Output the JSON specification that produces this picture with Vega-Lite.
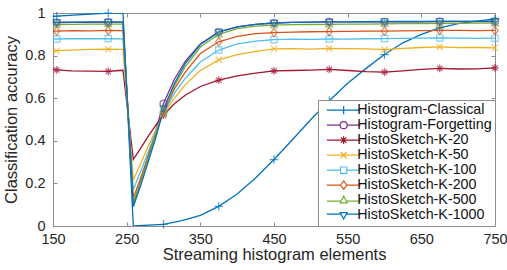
{
  "$schema": "https://vega.github.io/schema/vega-lite/v6.json",
  "width": 442,
  "height": 213,
  "autosize": {"type": "none"},
  "padding": {"left": 53, "top": 13, "right": 12, "bottom": 44},
  "background": "white",
  "config": {
    "font": "Liberation Sans",
    "view": {"stroke": "#8c8c8c", "strokeWidth": 1},
    "axis": {
      "domain": false,
      "grid": false,
      "tickColor": "#8c8c8c",
      "tickSize": -4,
      "labelFlush": false,
      "labelFontSize": 14.5,
      "labelColor": "#262626",
      "titleFontSize": 16.5,
      "titleFontWeight": "normal",
      "titleColor": "#262626"
    },
    "legend": {
      "labelFontSize": 14.3,
      "labelColor": "#111111",
      "strokeColor": "#8c8c8c",
      "fillColor": "white",
      "padding": 3,
      "rowPadding": 0,
      "cornerRadius": 0,
      "symbolOpacity": 1
    }
  },
  "data": {"values": [
    {"s":"Histogram-Classical","x":150,"y":0.983},{"s":"Histogram-Classical","x":155,"y":0.985},{"s":"Histogram-Classical","x":225,"y":1.0},{"s":"Histogram-Classical","x":245,"y":1.0},{"s":"Histogram-Classical","x":259,"y":0.0},{"s":"Histogram-Classical","x":300,"y":0.008},{"s":"Histogram-Classical","x":325,"y":0.025},{"s":"Histogram-Classical","x":350,"y":0.05},{"s":"Histogram-Classical","x":375,"y":0.092},{"s":"Histogram-Classical","x":400,"y":0.15},{"s":"Histogram-Classical","x":425,"y":0.225},{"s":"Histogram-Classical","x":450,"y":0.312},{"s":"Histogram-Classical","x":475,"y":0.405},{"s":"Histogram-Classical","x":500,"y":0.5},{"s":"Histogram-Classical","x":525,"y":0.588},{"s":"Histogram-Classical","x":550,"y":0.67},{"s":"Histogram-Classical","x":575,"y":0.74},{"s":"Histogram-Classical","x":600,"y":0.805},{"s":"Histogram-Classical","x":625,"y":0.86},{"s":"Histogram-Classical","x":650,"y":0.9},{"s":"Histogram-Classical","x":675,"y":0.93},{"s":"Histogram-Classical","x":700,"y":0.95},{"s":"Histogram-Classical","x":725,"y":0.962},{"s":"Histogram-Classical","x":750,"y":0.972},

    {"s":"Histogram-Forgetting","x":150,"y":0.955},{"s":"Histogram-Forgetting","x":155,"y":0.955},{"s":"Histogram-Forgetting","x":175,"y":0.956},{"s":"Histogram-Forgetting","x":200,"y":0.956},{"s":"Histogram-Forgetting","x":225,"y":0.957},{"s":"Histogram-Forgetting","x":245,"y":0.957},{"s":"Histogram-Forgetting","x":259,"y":0.1},{"s":"Histogram-Forgetting","x":270,"y":0.22},{"s":"Histogram-Forgetting","x":280,"y":0.34},{"s":"Histogram-Forgetting","x":290,"y":0.455},{"s":"Histogram-Forgetting","x":300,"y":0.575},{"s":"Histogram-Forgetting","x":315,"y":0.69},{"s":"Histogram-Forgetting","x":330,"y":0.775},{"s":"Histogram-Forgetting","x":350,"y":0.855},{"s":"Histogram-Forgetting","x":375,"y":0.912},{"s":"Histogram-Forgetting","x":400,"y":0.935},{"s":"Histogram-Forgetting","x":425,"y":0.947},{"s":"Histogram-Forgetting","x":450,"y":0.953},{"s":"Histogram-Forgetting","x":475,"y":0.956},{"s":"Histogram-Forgetting","x":500,"y":0.957},{"s":"Histogram-Forgetting","x":525,"y":0.958},{"s":"Histogram-Forgetting","x":550,"y":0.958},{"s":"Histogram-Forgetting","x":575,"y":0.958},{"s":"Histogram-Forgetting","x":600,"y":0.959},{"s":"Histogram-Forgetting","x":625,"y":0.959},{"s":"Histogram-Forgetting","x":650,"y":0.959},{"s":"Histogram-Forgetting","x":675,"y":0.96},{"s":"Histogram-Forgetting","x":700,"y":0.96},{"s":"Histogram-Forgetting","x":725,"y":0.96},{"s":"Histogram-Forgetting","x":750,"y":0.96},

    {"s":"HistoSketch-K-20","x":150,"y":0.735},{"s":"HistoSketch-K-20","x":155,"y":0.733},{"s":"HistoSketch-K-20","x":175,"y":0.728},{"s":"HistoSketch-K-20","x":200,"y":0.727},{"s":"HistoSketch-K-20","x":225,"y":0.726},{"s":"HistoSketch-K-20","x":240,"y":0.73},{"s":"HistoSketch-K-20","x":245,"y":0.731},{"s":"HistoSketch-K-20","x":259,"y":0.313},{"s":"HistoSketch-K-20","x":270,"y":0.37},{"s":"HistoSketch-K-20","x":280,"y":0.425},{"s":"HistoSketch-K-20","x":290,"y":0.475},{"s":"HistoSketch-K-20","x":300,"y":0.52},{"s":"HistoSketch-K-20","x":315,"y":0.575},{"s":"HistoSketch-K-20","x":330,"y":0.615},{"s":"HistoSketch-K-20","x":350,"y":0.655},{"s":"HistoSketch-K-20","x":375,"y":0.685},{"s":"HistoSketch-K-20","x":400,"y":0.705},{"s":"HistoSketch-K-20","x":425,"y":0.718},{"s":"HistoSketch-K-20","x":450,"y":0.728},{"s":"HistoSketch-K-20","x":475,"y":0.73},{"s":"HistoSketch-K-20","x":500,"y":0.732},{"s":"HistoSketch-K-20","x":525,"y":0.735},{"s":"HistoSketch-K-20","x":550,"y":0.73},{"s":"HistoSketch-K-20","x":575,"y":0.725},{"s":"HistoSketch-K-20","x":600,"y":0.722},{"s":"HistoSketch-K-20","x":625,"y":0.728},{"s":"HistoSketch-K-20","x":650,"y":0.735},{"s":"HistoSketch-K-20","x":675,"y":0.74},{"s":"HistoSketch-K-20","x":700,"y":0.737},{"s":"HistoSketch-K-20","x":725,"y":0.738},{"s":"HistoSketch-K-20","x":750,"y":0.742},

    {"s":"HistoSketch-K-50","x":150,"y":0.822},{"s":"HistoSketch-K-50","x":155,"y":0.823},{"s":"HistoSketch-K-50","x":175,"y":0.826},{"s":"HistoSketch-K-50","x":200,"y":0.829},{"s":"HistoSketch-K-50","x":225,"y":0.83},{"s":"HistoSketch-K-50","x":240,"y":0.829},{"s":"HistoSketch-K-50","x":245,"y":0.829},{"s":"HistoSketch-K-50","x":259,"y":0.216},{"s":"HistoSketch-K-50","x":270,"y":0.3},{"s":"HistoSketch-K-50","x":280,"y":0.38},{"s":"HistoSketch-K-50","x":290,"y":0.455},{"s":"HistoSketch-K-50","x":300,"y":0.525},{"s":"HistoSketch-K-50","x":315,"y":0.6},{"s":"HistoSketch-K-50","x":330,"y":0.665},{"s":"HistoSketch-K-50","x":350,"y":0.73},{"s":"HistoSketch-K-50","x":375,"y":0.78},{"s":"HistoSketch-K-50","x":400,"y":0.805},{"s":"HistoSketch-K-50","x":425,"y":0.82},{"s":"HistoSketch-K-50","x":450,"y":0.832},{"s":"HistoSketch-K-50","x":475,"y":0.833},{"s":"HistoSketch-K-50","x":500,"y":0.83},{"s":"HistoSketch-K-50","x":525,"y":0.834},{"s":"HistoSketch-K-50","x":550,"y":0.833},{"s":"HistoSketch-K-50","x":575,"y":0.832},{"s":"HistoSketch-K-50","x":600,"y":0.828},{"s":"HistoSketch-K-50","x":625,"y":0.834},{"s":"HistoSketch-K-50","x":650,"y":0.838},{"s":"HistoSketch-K-50","x":675,"y":0.841},{"s":"HistoSketch-K-50","x":700,"y":0.837},{"s":"HistoSketch-K-50","x":725,"y":0.838},{"s":"HistoSketch-K-50","x":750,"y":0.836},

    {"s":"HistoSketch-K-100","x":150,"y":0.878},{"s":"HistoSketch-K-100","x":155,"y":0.878},{"s":"HistoSketch-K-100","x":175,"y":0.88},{"s":"HistoSketch-K-100","x":200,"y":0.879},{"s":"HistoSketch-K-100","x":225,"y":0.88},{"s":"HistoSketch-K-100","x":245,"y":0.879},{"s":"HistoSketch-K-100","x":259,"y":0.17},{"s":"HistoSketch-K-100","x":270,"y":0.265},{"s":"HistoSketch-K-100","x":280,"y":0.355},{"s":"HistoSketch-K-100","x":290,"y":0.445},{"s":"HistoSketch-K-100","x":300,"y":0.53},{"s":"HistoSketch-K-100","x":315,"y":0.625},{"s":"HistoSketch-K-100","x":330,"y":0.695},{"s":"HistoSketch-K-100","x":350,"y":0.77},{"s":"HistoSketch-K-100","x":375,"y":0.826},{"s":"HistoSketch-K-100","x":400,"y":0.855},{"s":"HistoSketch-K-100","x":425,"y":0.868},{"s":"HistoSketch-K-100","x":450,"y":0.875},{"s":"HistoSketch-K-100","x":475,"y":0.877},{"s":"HistoSketch-K-100","x":500,"y":0.876},{"s":"HistoSketch-K-100","x":525,"y":0.878},{"s":"HistoSketch-K-100","x":550,"y":0.877},{"s":"HistoSketch-K-100","x":575,"y":0.879},{"s":"HistoSketch-K-100","x":600,"y":0.88},{"s":"HistoSketch-K-100","x":625,"y":0.881},{"s":"HistoSketch-K-100","x":650,"y":0.882},{"s":"HistoSketch-K-100","x":675,"y":0.883},{"s":"HistoSketch-K-100","x":700,"y":0.882},{"s":"HistoSketch-K-100","x":725,"y":0.881},{"s":"HistoSketch-K-100","x":750,"y":0.882},

    {"s":"HistoSketch-K-200","x":150,"y":0.915},{"s":"HistoSketch-K-200","x":155,"y":0.915},{"s":"HistoSketch-K-200","x":175,"y":0.917},{"s":"HistoSketch-K-200","x":200,"y":0.916},{"s":"HistoSketch-K-200","x":225,"y":0.918},{"s":"HistoSketch-K-200","x":245,"y":0.917},{"s":"HistoSketch-K-200","x":259,"y":0.13},{"s":"HistoSketch-K-200","x":270,"y":0.235},{"s":"HistoSketch-K-200","x":280,"y":0.335},{"s":"HistoSketch-K-200","x":290,"y":0.435},{"s":"HistoSketch-K-200","x":300,"y":0.535},{"s":"HistoSketch-K-200","x":315,"y":0.645},{"s":"HistoSketch-K-200","x":330,"y":0.725},{"s":"HistoSketch-K-200","x":350,"y":0.81},{"s":"HistoSketch-K-200","x":375,"y":0.865},{"s":"HistoSketch-K-200","x":400,"y":0.89},{"s":"HistoSketch-K-200","x":425,"y":0.903},{"s":"HistoSketch-K-200","x":450,"y":0.908},{"s":"HistoSketch-K-200","x":475,"y":0.91},{"s":"HistoSketch-K-200","x":500,"y":0.912},{"s":"HistoSketch-K-200","x":525,"y":0.913},{"s":"HistoSketch-K-200","x":550,"y":0.914},{"s":"HistoSketch-K-200","x":575,"y":0.915},{"s":"HistoSketch-K-200","x":600,"y":0.915},{"s":"HistoSketch-K-200","x":625,"y":0.916},{"s":"HistoSketch-K-200","x":650,"y":0.917},{"s":"HistoSketch-K-200","x":675,"y":0.918},{"s":"HistoSketch-K-200","x":700,"y":0.918},{"s":"HistoSketch-K-200","x":725,"y":0.917},{"s":"HistoSketch-K-200","x":750,"y":0.918},

    {"s":"HistoSketch-K-500","x":150,"y":0.945},{"s":"HistoSketch-K-500","x":155,"y":0.946},{"s":"HistoSketch-K-500","x":175,"y":0.947},{"s":"HistoSketch-K-500","x":200,"y":0.948},{"s":"HistoSketch-K-500","x":225,"y":0.948},{"s":"HistoSketch-K-500","x":245,"y":0.948},{"s":"HistoSketch-K-500","x":259,"y":0.11},{"s":"HistoSketch-K-500","x":270,"y":0.215},{"s":"HistoSketch-K-500","x":280,"y":0.325},{"s":"HistoSketch-K-500","x":290,"y":0.43},{"s":"HistoSketch-K-500","x":300,"y":0.545},{"s":"HistoSketch-K-500","x":315,"y":0.66},{"s":"HistoSketch-K-500","x":330,"y":0.75},{"s":"HistoSketch-K-500","x":350,"y":0.84},{"s":"HistoSketch-K-500","x":375,"y":0.9},{"s":"HistoSketch-K-500","x":400,"y":0.927},{"s":"HistoSketch-K-500","x":425,"y":0.938},{"s":"HistoSketch-K-500","x":450,"y":0.943},{"s":"HistoSketch-K-500","x":475,"y":0.945},{"s":"HistoSketch-K-500","x":500,"y":0.946},{"s":"HistoSketch-K-500","x":525,"y":0.947},{"s":"HistoSketch-K-500","x":550,"y":0.948},{"s":"HistoSketch-K-500","x":575,"y":0.948},{"s":"HistoSketch-K-500","x":600,"y":0.949},{"s":"HistoSketch-K-500","x":625,"y":0.95},{"s":"HistoSketch-K-500","x":650,"y":0.95},{"s":"HistoSketch-K-500","x":675,"y":0.951},{"s":"HistoSketch-K-500","x":700,"y":0.951},{"s":"HistoSketch-K-500","x":725,"y":0.952},{"s":"HistoSketch-K-500","x":750,"y":0.952},

    {"s":"HistoSketch-K-1000","x":150,"y":0.957},{"s":"HistoSketch-K-1000","x":155,"y":0.957},{"s":"HistoSketch-K-1000","x":175,"y":0.957},{"s":"HistoSketch-K-1000","x":200,"y":0.958},{"s":"HistoSketch-K-1000","x":225,"y":0.958},{"s":"HistoSketch-K-1000","x":245,"y":0.957},{"s":"HistoSketch-K-1000","x":259,"y":0.09},{"s":"HistoSketch-K-1000","x":270,"y":0.2},{"s":"HistoSketch-K-1000","x":280,"y":0.31},{"s":"HistoSketch-K-1000","x":290,"y":0.42},{"s":"HistoSketch-K-1000","x":300,"y":0.55},{"s":"HistoSketch-K-1000","x":315,"y":0.67},{"s":"HistoSketch-K-1000","x":330,"y":0.765},{"s":"HistoSketch-K-1000","x":350,"y":0.852},{"s":"HistoSketch-K-1000","x":375,"y":0.91},{"s":"HistoSketch-K-1000","x":400,"y":0.935},{"s":"HistoSketch-K-1000","x":425,"y":0.947},{"s":"HistoSketch-K-1000","x":450,"y":0.953},{"s":"HistoSketch-K-1000","x":475,"y":0.956},{"s":"HistoSketch-K-1000","x":500,"y":0.957},{"s":"HistoSketch-K-1000","x":525,"y":0.958},{"s":"HistoSketch-K-1000","x":550,"y":0.958},{"s":"HistoSketch-K-1000","x":575,"y":0.959},{"s":"HistoSketch-K-1000","x":600,"y":0.96},{"s":"HistoSketch-K-1000","x":625,"y":0.96},{"s":"HistoSketch-K-1000","x":650,"y":0.96},{"s":"HistoSketch-K-1000","x":675,"y":0.961},{"s":"HistoSketch-K-1000","x":700,"y":0.961},{"s":"HistoSketch-K-1000","x":725,"y":0.961},{"s":"HistoSketch-K-1000","x":750,"y":0.962}
  ]},
  "encoding": {
    "x": {"field": "x", "type": "quantitative", "scale": {"domain": [150, 750], "nice": false, "zero": false}, "axis": null},
    "y": {"field": "y", "type": "quantitative", "scale": {"domain": [0, 1], "nice": false}, "axis": null},
    "color": {
      "field": "s", "type": "nominal",
      "scale": {
        "domain": ["Histogram-Classical","Histogram-Forgetting","HistoSketch-K-20","HistoSketch-K-50","HistoSketch-K-100","HistoSketch-K-200","HistoSketch-K-500","HistoSketch-K-1000"],
        "range": ["#0072BD","#7E2F8E","#A2142F","#EDB120","#4DBEEE","#D95319","#77AC30","#0072BD"]
      },
      "legend": {"title": null, "orient": "bottom-right", "offset": 0, "symbolSize": 49, "symbolOffset": 15.5, "labelOffset": 6.5, "symbolStrokeWidth": 1.2}
    }
  },
  "layer": [
    {
      "mark": {"type": "line", "strokeWidth": 1.3, "clip": true},
      "encoding": {
        "x": {"field": "x", "type": "quantitative", "axis": {"orient": "bottom", "values": [150,250,350,450,550,650,750], "labelPadding": 10, "title": "Streaming histogram elements", "titlePadding": 1}},
        "y": {"field": "y", "type": "quantitative", "axis": {"orient": "left", "values": [0,0.2,0.4,0.6,0.8,1], "format": "~g", "labelPadding": 12, "title": "Classification accuracy", "titlePadding": 5}}
      }
    },
    {
      "transform": [{"filter": {"and": [{"field": "s", "equal": "Histogram-Classical"}, {"field": "x", "oneOf": [155,225,300,375,450,525,600,675,750]}]}}],
      "mark": {"type": "point", "filled": false, "size": 49, "strokeWidth": 1.2, "shape": "M-1.2,0H1.2M0,-1.2V1.2"},
      "encoding": {
        "x": {"field": "x", "type": "quantitative", "axis": {"orient": "top", "values": [150,250,350,450,550,650,750], "labels": false, "title": null}},
        "y": {"field": "y", "type": "quantitative", "axis": {"orient": "right", "values": [0,0.2,0.4,0.6,0.8,1], "labels": false, "title": null}}
      }
    },
    {
      "transform": [{"filter": {"and": [{"field": "s", "equal": "Histogram-Forgetting"}, {"field": "x", "oneOf": [155,225,300,375,450,525,600,675,750]}]}}],
      "mark": {"type": "point", "filled": false, "size": 49, "strokeWidth": 1.2, "shape": "circle"}
    },
    {
      "transform": [{"filter": {"and": [{"field": "s", "equal": "HistoSketch-K-20"}, {"field": "x", "oneOf": [155,225,300,375,450,525,600,675,750]}]}}],
      "mark": {"type": "point", "filled": false, "size": 49, "strokeWidth": 1.2, "shape": "M-1.1,0H1.1M0,-1.1V1.1M-0.78,-0.78L0.78,0.78M-0.78,0.78L0.78,-0.78"}
    },
    {
      "transform": [{"filter": {"and": [{"field": "s", "equal": "HistoSketch-K-50"}, {"field": "x", "oneOf": [155,225,300,375,450,525,600,675,750]}]}}],
      "mark": {"type": "point", "filled": false, "size": 49, "strokeWidth": 1.2, "shape": "M-0.9,-0.9L0.9,0.9M-0.9,0.9L0.9,-0.9"}
    },
    {
      "transform": [{"filter": {"and": [{"field": "s", "equal": "HistoSketch-K-100"}, {"field": "x", "oneOf": [155,225,300,375,450,525,600,675,750]}]}}],
      "mark": {"type": "point", "filled": false, "size": 49, "strokeWidth": 1.2, "shape": "M-0.9,-0.9H0.9V0.9H-0.9Z"}
    },
    {
      "transform": [{"filter": {"and": [{"field": "s", "equal": "HistoSketch-K-200"}, {"field": "x", "oneOf": [155,225,300,375,450,525,600,675,750]}]}}],
      "mark": {"type": "point", "filled": false, "size": 49, "strokeWidth": 1.2, "shape": "M0,-1.2L0.9,0L0,1.2L-0.9,0Z"}
    },
    {
      "transform": [{"filter": {"and": [{"field": "s", "equal": "HistoSketch-K-500"}, {"field": "x", "oneOf": [155,225,300,375,450,525,600,675,750]}]}}],
      "mark": {"type": "point", "filled": false, "size": 49, "strokeWidth": 1.2, "shape": "M0,-1.1L1,0.75L-1,0.75Z"}
    },
    {
      "transform": [{"filter": {"and": [{"field": "s", "equal": "HistoSketch-K-1000"}, {"field": "x", "oneOf": [155,225,300,375,450,525,600,675,750]}]}}],
      "mark": {"type": "point", "filled": false, "size": 49, "strokeWidth": 1.2, "shape": "M0,1.1L1,-0.75L-1,-0.75Z"}
    },
    {
      "transform": [{"filter": "false"}],
      "mark": {"type": "point", "filled": false, "size": 49, "strokeWidth": 1.2},
      "encoding": {
        "shape": {
          "field": "s", "type": "nominal",
          "scale": {
            "domain": ["Histogram-Classical","Histogram-Forgetting","HistoSketch-K-20","HistoSketch-K-50","HistoSketch-K-100","HistoSketch-K-200","HistoSketch-K-500","HistoSketch-K-1000"],
            "range": [
              "M-4.8,0H4.8M0,-1.2V1.2",
              "M-4.8,0H-1M1,0H4.8M-1,0A1,1,0,1,1,1,0A1,1,0,1,1,-1,0Z",
              "M-4.8,0H4.8M0,-1.1V1.1M-0.78,-0.78L0.78,0.78M-0.78,0.78L0.78,-0.78",
              "M-4.8,0H4.8M-0.9,-0.9L0.9,0.9M-0.9,0.9L0.9,-0.9",
              "M-4.8,0H-0.9M0.9,0H4.8M-0.9,-0.9H0.9V0.9H-0.9Z",
              "M-4.8,0H-0.9M0.9,0H4.8M0,-1.2L0.9,0L0,1.2L-0.9,0Z",
              "M-4.8,0.3H-0.85M0.85,0.3H4.8M0,-1.1L1,0.75L-1,0.75Z",
              "M-4.8,-0.3H-0.85M0.85,-0.3H4.8M0,1.1L1,-0.75L-1,-0.75Z"
            ]
          },
          "legend": {"title": null, "orient": "bottom-right", "offset": 0, "symbolSize": 49, "symbolOffset": 15.5, "labelOffset": 6.5, "symbolStrokeWidth": 1.2}
        }
      }
    }
  ],
  "resolve": {"axis": {"x": "independent", "y": "independent"}}
}
